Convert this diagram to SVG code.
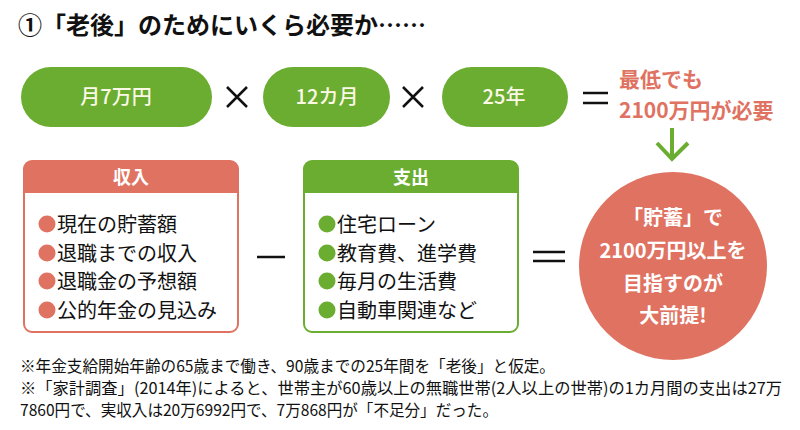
<svg xmlns="http://www.w3.org/2000/svg" width="800" height="430" viewBox="0 0 800 430">
<style>
text{font-family:"Noto Sans CJK JP","Noto Sans",sans-serif;}
.title{font-size:24px;font-weight:700;fill:#111;}
.pill{fill:#6aad30;}
.pilltxt{font-size:20px;fill:#fbf8e6;text-anchor:middle;font-weight:500;}
.op{stroke:#111;stroke-width:2.5;fill:none;}
.red{fill:#e07262;}
.redtxt{font-size:21px;font-weight:700;fill:#e07262;}
.boxr{fill:#fff;stroke:#e07262;stroke-width:2;}
.boxg{fill:#fff;stroke:#6aad30;stroke-width:2;}
.head{font-size:18px;font-weight:700;fill:#fff;text-anchor:middle;}
.item{font-size:20px;fill:#111;}
.circtxt{font-size:20px;font-weight:700;fill:#fff;text-anchor:middle;}
.note{font-size:16px;fill:#111;}
</style>
<rect width="800" height="430" fill="#fff"/>
<text class="title" x="18" y="34">①「老後」のためにいくら必要か……</text>

<g id="pill-monthly">
<rect class="pill" x="21" y="67" width="191" height="60" rx="30"/>
<text class="pilltxt" x="116" y="104">月7万円</text>
</g>
<g id="pill-months">
<rect class="pill" x="263" y="67" width="127" height="60" rx="30"/>
<text class="pilltxt" x="327" y="104">12カ月</text>
</g>
<g id="pill-years">
<rect class="pill" x="442" y="67" width="126" height="60" rx="30"/>
<text class="pilltxt" x="504" y="104">25年</text>
</g>
<g id="result-need">
<text class="redtxt" x="619" y="87">最低でも</text>
<text class="redtxt" x="619" y="118">2100万円が必要</text>
</g>

<g id="income">
<rect class="boxr" x="24" y="161" width="214" height="171" rx="8"/>
<path class="red" d="M24,193 V169 a8,8 0 0 1 8,-8 H230 a8,8 0 0 1 8,8 V193 Z"/>
<text class="head" x="131" y="184">収入</text>
<circle class="red" cx="47" cy="224" r="8.5"/>
<circle class="red" cx="47" cy="253" r="8.5"/>
<circle class="red" cx="47" cy="281" r="8.5"/>
<circle class="red" cx="47" cy="310" r="8.5"/>
<text class="item" x="57" y="232">現在の貯蓄額</text>
<text class="item" x="57" y="261">退職までの収入</text>
<text class="item" x="57" y="289">退職金の予想額</text>
<text class="item" x="57" y="318">公的年金の見込み</text>
</g>

<g id="expense">
<rect class="boxg" x="304" y="161" width="214" height="171" rx="8"/>
<path class="pill" d="M304,193 V169 a8,8 0 0 1 8,-8 H510 a8,8 0 0 1 8,8 V193 Z"/>
<text class="head" x="411" y="184">支出</text>
<circle class="pill" cx="327" cy="224" r="8.5"/>
<circle class="pill" cx="327" cy="253" r="8.5"/>
<circle class="pill" cx="327" cy="281" r="8.5"/>
<circle class="pill" cx="327" cy="310" r="8.5"/>
<text class="item" x="337" y="232">住宅ローン</text>
<text class="item" x="337" y="261">教育費、進学費</text>
<text class="item" x="337" y="289">毎月の生活費</text>
<text class="item" x="337" y="318">自動車関連など</text>
</g>

<g id="goal">
<circle class="red" cx="673" cy="266" r="94"/>
<text class="circtxt" x="673" y="225">「貯蓄」で</text>
<text class="circtxt" x="673" y="258">2100万円以上を</text>
<text class="circtxt" x="673" y="291">目指すのが</text>
<text class="circtxt" x="673" y="323">大前提!</text>
</g>

<g id="connectors">
<path class="op" d="M227,87 L247,107 M247,87 L227,107"/>
<path class="op" d="M403,87 L423,107 M423,87 L403,107"/>
<path class="op" d="M583,93 H608 M583,103 H608"/>
<path class="op" d="M257,257 H285"/>
<path class="op" d="M533,252 H565 M533,261 H565"/>
<path d="M672,128 V159 M657,143 L672,159 L688,143" stroke="#6aad30" stroke-width="4" fill="none"/>
</g>

<g id="notes">
<text class="note" x="20" y="372" textLength="535" lengthAdjust="spacingAndGlyphs">※年金支給開始年齢の65歳まで働き、90歳までの25年間を「老後」と仮定。</text>
<text class="note" x="20" y="394" textLength="762" lengthAdjust="spacingAndGlyphs">※「家計調査」(2014年)によると、世帯主が60歳以上の無職世帯(2人以上の世帯)の1カ月間の支出は27万</text>
<text class="note" x="20" y="416" textLength="478" lengthAdjust="spacingAndGlyphs">7860円で、実収入は20万6992円で、7万868円が「不足分」だった。</text>
</g>
</svg>
